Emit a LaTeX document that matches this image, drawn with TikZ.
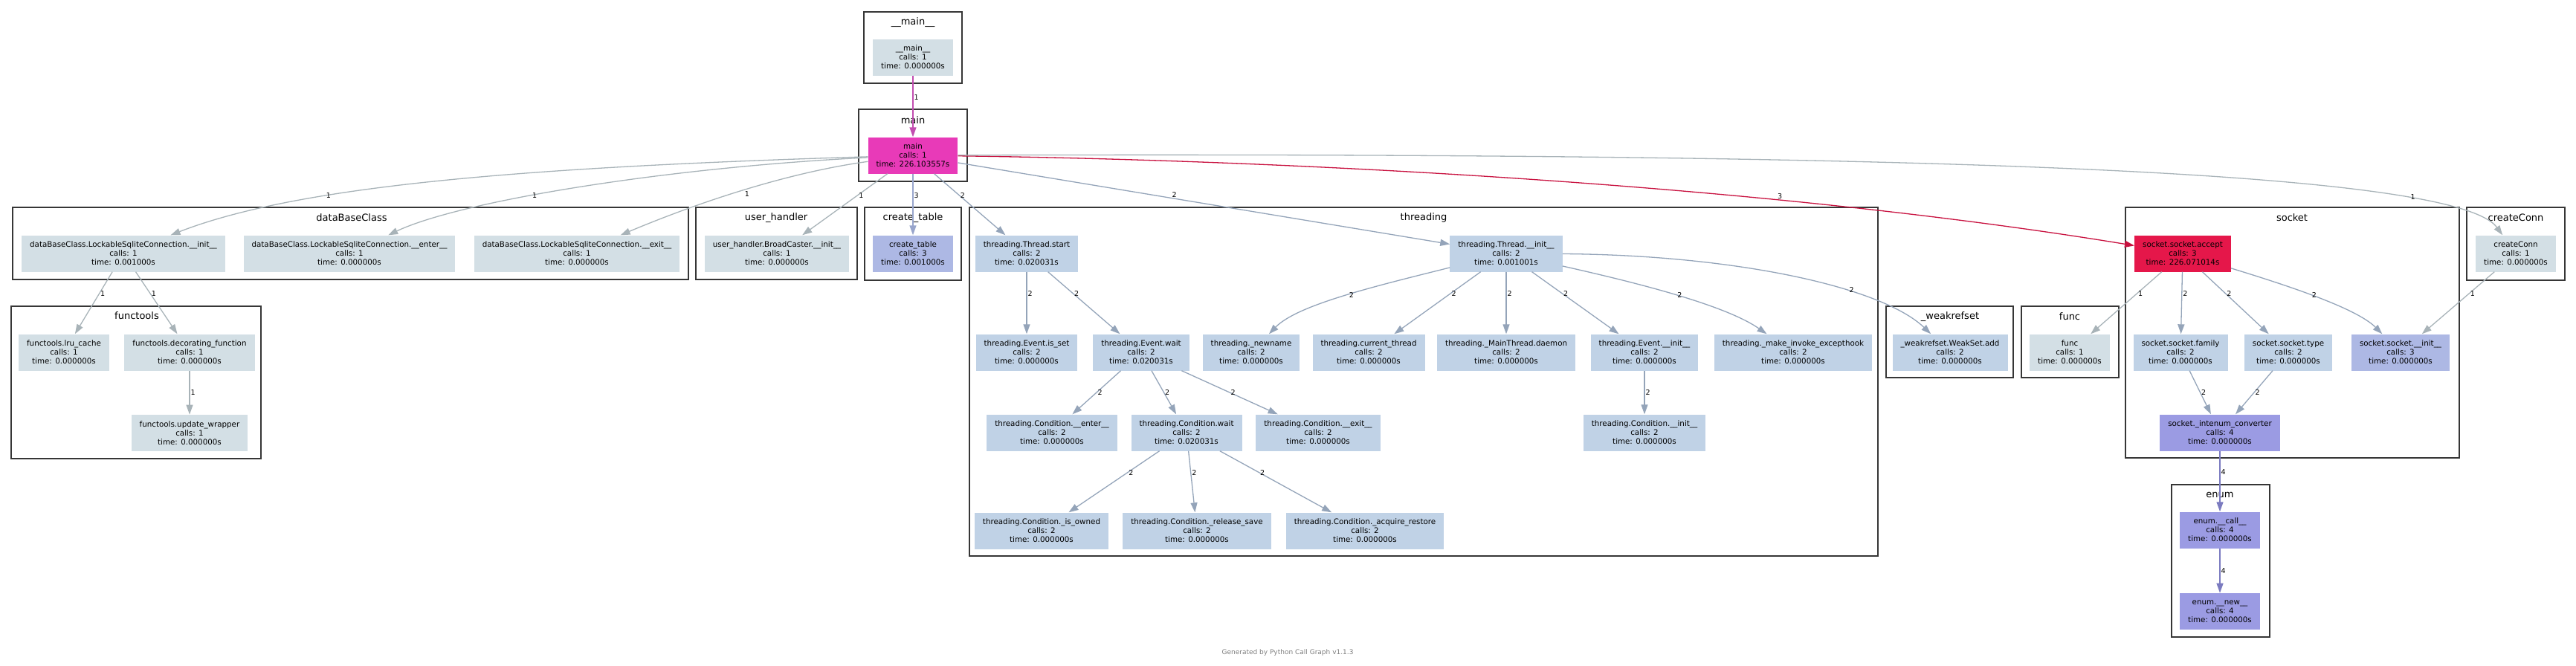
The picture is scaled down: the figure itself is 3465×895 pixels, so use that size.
\documentclass[tikz,border=0pt]{standalone}
\usepackage{fontspec}
\setmainfont{DejaVu Sans}
\usetikzlibrary{positioning}
\usetikzlibrary{arrows.meta}
\definecolor{idlegray}{HTML}{D3DFE5}
\definecolor{threadblue}{HTML}{C0D2E6}
\definecolor{lavblue}{HTML}{ADB8E4}
\definecolor{enumpurple}{HTML}{9B9BE3}
\definecolor{mainpink}{HTML}{E83AB8}
\definecolor{hotred}{HTML}{E5174A}
\definecolor{linegray}{HTML}{A8B3B8}
\definecolor{lineblue}{HTML}{94A4B9}
\definecolor{linelav}{HTML}{98A5CC}
\definecolor{linered}{HTML}{C8113F}
\definecolor{linepurple}{HTML}{7B7BC0}
\definecolor{linepink}{HTML}{C24DB0}
\definecolor{clusterframe}{HTML}{363636}
\definecolor{footgray}{HTML}{7F7F7F}
\tikzset{
	block/.style={
		rectangle,
		align=center,
		minimum height=49pt,
		inner xsep=11pt,
		inner ysep=0pt,
		font=\fontsize{10.3}{12}\selectfont
	},
	graynode/.style={fill=idlegray},
	bluenode/.style={fill=threadblue},
	lavnode/.style={fill=lavblue},
	purplenode/.style={fill=enumpurple},
	cluster/.style={draw=clusterframe, line width=2.5pt},
	clustertitle/.style={font=\fontsize{13}{15}\selectfont, inner sep=0pt},
	call/.style={-{Triangle[length=13pt, width=9pt]}, line width=1.3pt},
	callcount/.style={font=\fontsize{9.5}{11}\selectfont, text=black, inner sep=1pt, anchor=west, pos=0.35}
}

\begin{document}
\begin{tikzpicture}[x=1pt, y=1pt]
			\useasboundingbox (0,0) rectangle (3465,-895);
			
			% clusters
			\draw[cluster] (1162,-16) rectangle (1294,-112);
			\draw node[clustertitle](MainModTitle) at (1228,-30){\_\_main\_\_};
			\draw[cluster] (1155,-147) rectangle (1301,-244);
			\draw node[clustertitle](MainTitle) at (1228,-162){main};
			\draw[cluster] (17,-279) rectangle (926,-376);
			\draw node[clustertitle](DbTitle) at (473,-293){dataBaseClass};
			\draw[cluster] (936,-279) rectangle (1153,-376);
			\draw node[clustertitle](UhTitle) at (1044,-293){user\_handler};
			\draw[cluster] (1163,-279) rectangle (1293,-377);
			\draw node[clustertitle](CtTitle) at (1228,-293){create\_table};
			\draw[cluster] (1304,-279) rectangle (2526,-748);
			\draw node[clustertitle](ThTitle) at (1915,-293){threading};
			\draw[cluster] (2537,-412) rectangle (2708,-508);
			\draw node[clustertitle](WeakTitle) at (2623,-426){\_weakrefset};
			\draw[cluster] (2719,-412) rectangle (2850,-508);
			\draw node[clustertitle](FuncTitle) at (2784,-426){func};
			\draw[cluster] (2859,-279) rectangle (3308,-616);
			\draw node[clustertitle](SockTitle) at (3083,-293){socket};
			\draw[cluster] (3318,-279) rectangle (3450,-377);
			\draw node[clustertitle](CcTitle) at (3384,-293){createConn};
			\draw[cluster] (2921,-652) rectangle (3053,-857);
			\draw node[clustertitle](EnumTitle) at (2986,-666){enum};
			\draw[cluster] (15,-412) rectangle (351,-617);
			\draw node[clustertitle](FtTitle) at (184,-425){functools};
			
			% functions
			\draw node[block, graynode](MainMod) at (1228,-77){\_\_main\_\_\\ calls: 1\\ time: 0.000000s};
			\draw node[block, fill=mainpink](Main) at (1228,-209){main\\ calls: 1\\ time: 226.103557s};
			
			\draw node[block, graynode](DbInit) at (166,-341){dataBaseClass.LockableSqliteConnection.\_\_init\_\_\\ calls: 1\\ time: 0.001000s};
			\draw node[block, graynode](DbEnter) at (470,-341){dataBaseClass.LockableSqliteConnection.\_\_enter\_\_\\ calls: 1\\ time: 0.000000s};
			\draw node[block, graynode](DbExit) at (776,-341){dataBaseClass.LockableSqliteConnection.\_\_exit\_\_\\ calls: 1\\ time: 0.000000s};
			\draw node[block, graynode](UhInit) at (1045,-341){user\_handler.BroadCaster.\_\_init\_\_\\ calls: 1\\ time: 0.000000s};
			\draw node[block, lavnode](CreateTable) at (1228,-341){create\_table\\ calls: 3\\ time: 0.001000s};
			\draw node[block, bluenode](ThStart) at (1381,-341){threading.Thread.start\\ calls: 2\\ time: 0.020031s};
			\draw node[block, bluenode](ThInit) at (2026,-341){threading.Thread.\_\_init\_\_\\ calls: 2\\ time: 0.001001s};
			\draw node[block, fill=hotred](Accept) at (2936,-341){socket.socket.accept\\ calls: 3\\ time: 226.071014s};
			\draw node[block, graynode](CreateConn) at (3384,-341){createConn\\ calls: 1\\ time: 0.000000s};
			
			\draw node[block, graynode](LruCache) at (86,-474){functools.lru\_cache\\ calls: 1\\ time: 0.000000s};
			\draw node[block, graynode](Decorating) at (255,-474){functools.decorating\_function\\ calls: 1\\ time: 0.000000s};
			\draw node[block, graynode, below=59pt of Decorating](UpdateWrapper){functools.update\_wrapper\\ calls: 1\\ time: 0.000000s};
			
			\draw node[block, bluenode](EvIsSet) at (1381,-474){threading.Event.is\_set\\ calls: 2\\ time: 0.000000s};
			\draw node[block, bluenode](EvWait) at (1535,-474){threading.Event.wait\\ calls: 2\\ time: 0.020031s};
			\draw node[block, bluenode](NewName) at (1683,-474){threading.\_newname\\ calls: 2\\ time: 0.000000s};
			\draw node[block, bluenode](CurThread) at (1841,-474){threading.current\_thread\\ calls: 2\\ time: 0.000000s};
			\draw node[block, bluenode](MainDaemon) at (2026,-474){threading.\_MainThread.daemon\\ calls: 2\\ time: 0.000000s};
			\draw node[block, bluenode](EvInit) at (2212,-474){threading.Event.\_\_init\_\_\\ calls: 2\\ time: 0.000000s};
			\draw node[block, bluenode](MakeInvoke) at (2412,-474){threading.\_make\_invoke\_excepthook\\ calls: 2\\ time: 0.000000s};
			\draw node[block, bluenode](WeakAdd) at (2623,-474){\_weakrefset.WeakSet.add\\ calls: 2\\ time: 0.000000s};
			\draw node[block, graynode](Func) at (2784,-474){func\\ calls: 1\\ time: 0.000000s};
			\draw node[block, bluenode](Family) at (2933,-474){socket.socket.family\\ calls: 2\\ time: 0.000000s};
			\draw node[block, bluenode](SockType) at (3078,-474){socket.socket.type\\ calls: 2\\ time: 0.000000s};
			\draw node[block, lavnode](SockInit) at (3229,-474){socket.socket.\_\_init\_\_\\ calls: 3\\ time: 0.000000s};
			
			\draw node[block, bluenode](CondEnter) at (1415,-582){threading.Condition.\_\_enter\_\_\\ calls: 2\\ time: 0.000000s};
			\draw node[block, bluenode](CondWait) at (1596,-582){threading.Condition.wait\\ calls: 2\\ time: 0.020031s};
			\draw node[block, bluenode](CondExit) at (1773,-582){threading.Condition.\_\_exit\_\_\\ calls: 2\\ time: 0.000000s};
			\draw node[block, bluenode](CondInit) at (2212,-582){threading.Condition.\_\_init\_\_\\ calls: 2\\ time: 0.000000s};
			\draw node[block, purplenode](IntEnum) at (2986,-582){socket.\_intenum\_converter\\ calls: 4\\ time: 0.000000s};
			
			\draw node[block, bluenode](IsOwned) at (1401,-714){threading.Condition.\_is\_owned\\ calls: 2\\ time: 0.000000s};
			\draw node[block, bluenode](ReleaseSave) at (1610,-714){threading.Condition.\_release\_save\\ calls: 2\\ time: 0.000000s};
			\draw node[block, bluenode](AcquireRestore) at (1836,-714){threading.Condition.\_acquire\_restore\\ calls: 2\\ time: 0.000000s};
			\draw node[block, purplenode](EnumCall) at (2986,-713){enum.\_\_call\_\_\\ calls: 4\\ time: 0.000000s};
			\draw node[block, purplenode, below=60pt of EnumCall](EnumNew){enum.\_\_new\_\_\\ calls: 4\\ time: 0.000000s};
			
			% calls out of main
			\draw[call, linepink] (MainMod) -- node[callcount]{1} (Main);
			\draw[call, linegray] (Main) .. controls (700,-225) and (400,-250) .. node[callcount, pos=0.67, anchor=center]{1} (DbInit);
			\draw[call, linegray] (Main) .. controls (900,-225) and (620,-270) .. node[callcount, pos=0.6]{1} (DbEnter);
			\draw[call, linegray] (Main) .. controls (1060,-232) and (940,-272) .. node[callcount, pos=0.5, anchor=north west]{1} (DbExit);
			\draw[call, linegray] (Main) -- node[callcount]{1} (UhInit);
			\draw[call, linelav] (Main) -- node[callcount]{3} (CreateTable);
			\draw[call, lineblue] (Main) -- node[callcount]{2} (ThStart);
			\draw[call, lineblue] (Main) -- node[callcount, pos=0.44, anchor=south]{2} (ThInit);
			\draw[call, linered] (Main) .. controls (1700,-215) and (2350,-245) .. node[callcount, pos=0.71, anchor=south]{3} (Accept);
			\draw[call, linegray] (Main) .. controls (2500,-205) and (3300,-225) .. node[callcount, pos=0.8, anchor=south west]{1} (CreateConn);
			
			% threading
			\draw[call, lineblue] (ThStart) -- node[callcount]{2} (EvIsSet);
			\draw[call, lineblue] (ThStart) -- node[callcount]{2} (EvWait);
			\draw[call, lineblue] (ThInit) .. controls (1850,-385) and (1745,-410) .. node[callcount, pos=0.47]{2} (NewName);
			\draw[call, lineblue] (ThInit) -- node[callcount]{2} (CurThread);
			\draw[call, lineblue] (ThInit) -- node[callcount]{2} (MainDaemon);
			\draw[call, lineblue] (ThInit) -- node[callcount]{2} (EvInit);
			\draw[call, lineblue] (ThInit) .. controls (2200,-380) and (2320,-410) .. node[callcount, pos=0.5]{2} (MakeInvoke);
			\draw[call, lineblue] (ThInit) .. controls (2330,-343) and (2530,-385) .. node[callcount, pos=0.68, anchor=south east]{2} (WeakAdd);
			\draw[call, lineblue] (EvWait) -- node[callcount, midway]{2} (CondEnter);
			\draw[call, lineblue] (EvWait) -- node[callcount, midway]{2} (CondWait);
			\draw[call, lineblue] (EvWait) -- node[callcount, midway]{2} (CondExit);
			\draw[call, lineblue] (EvInit) -- node[callcount, midway]{2} (CondInit);
			\draw[call, lineblue] (CondWait) -- node[callcount]{2} (IsOwned);
			\draw[call, lineblue] (CondWait) -- node[callcount]{2} (ReleaseSave);
			\draw[call, lineblue] (CondWait) -- node[callcount]{2} (AcquireRestore);
			
			% socket and enum
			\draw[call, linegray] (Accept) -- node[callcount]{1} (Func);
			\draw[call, lineblue] (Accept) -- node[callcount]{2} (Family);
			\draw[call, lineblue] (Accept) -- node[callcount]{2} (SockType);
			\draw[call, lineblue] (Accept) .. controls (3080,-385) and (3170,-415) .. node[callcount, pos=0.45]{2} (SockInit);
			\draw[call, linegray] (CreateConn) -- node[callcount]{1} (SockInit);
			\draw[call, lineblue] (Family) -- node[callcount, midway]{2} (IntEnum);
			\draw[call, lineblue] (SockType) -- node[callcount, midway]{2} (IntEnum);
			\draw[call, linepurple] (IntEnum) -- node[callcount]{4} (EnumCall);
			\draw[call, linepurple] (EnumCall) -- node[callcount, midway]{4} (EnumNew);
			
			% functools
			\draw[call, linegray] (DbInit) -- node[callcount]{1} (LruCache);
			\draw[call, linegray] (DbInit) -- node[callcount]{1} (Decorating);
			\draw[call, linegray] (Decorating) -- node[callcount, midway]{1} (UpdateWrapper);
			
			\draw node[font=\fontsize{9}{11}\selectfont, text=footgray](Footer) at (1732,-878){Generated by Python Call Graph v1.1.3};
		\end{tikzpicture}
\end{document}
